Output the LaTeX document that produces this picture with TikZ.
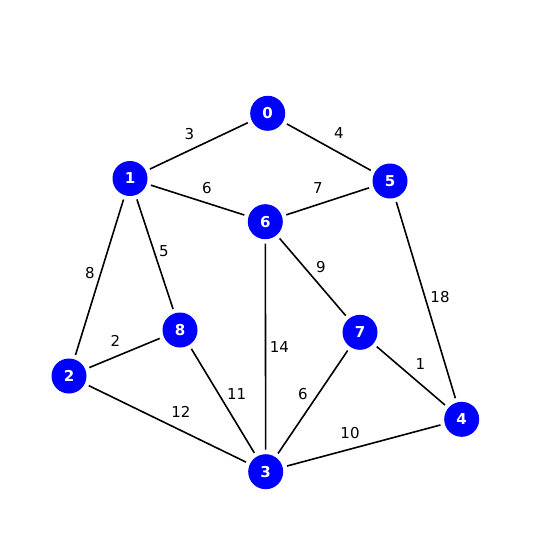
\documentclass[tikz,border=0pt]{standalone}
\usepackage{fontspec}
\setmainfont{DejaVu Sans}
\usepackage{tikz}
\usetikzlibrary{positioning}

\begin{document}
\begin{tikzpicture}[x=1pt, y=-1pt,
    vertex/.style={circle, fill=blue, draw=none, minimum size=35pt, inner sep=0pt, outer sep=4.5pt, text=white, font=\fontsize{15}{15}\selectfont\bfseries},
    weight/.style={inner sep=0pt, font=\fontsize{15}{15}\selectfont},
    edge/.style={draw=black, line width=1.6pt}]
    \useasboundingbox (0,0) rectangle (533,533);

    % vertices
    \node[vertex] (n0) at (267.7,113.3) {0};
    \node[vertex] (n1) at (130,178.5) {1};
    \node[vertex] (n5) at (390,181) {5};
    \node[vertex] (n6) at (265.3,221.7) {6};
    \node[vertex] (n8) at (180,330) {8};
    \node[vertex] (n7) at (360,332.3) {7};
    \node[vertex] (n2) at (69,376) {2};
    \node[vertex] (n4) at (461.7,419.3) {4};
    \node[vertex] (n3) at (265.7,471.7) {3};

    % edges
    \draw[edge] (n0) -- (n1);
    \draw[edge] (n0) -- (n5);
    \draw[edge] (n1) -- (n6);
    \draw[edge] (n6) -- (n5);
    \draw[edge] (n1) -- (n2);
    \draw[edge] (n1) -- (n8);
    \draw[edge] (n6) -- (n7);
    \draw[edge] (n5) -- (n4);
    \draw[edge] (n6) -- (n3);
    \draw[edge] (n2) -- (n8);
    \draw[edge] (n7) -- (n4);
    \draw[edge] (n8) -- (n3);
    \draw[edge] (n7) -- (n3);
    \draw[edge] (n2) -- (n3);
    \draw[edge] (n3) -- (n4);

    % weights
    \node[weight] (w01) at (189.3,133.7) {3};
    \node[weight] (w05) at (339,133) {4};
    \node[weight] (w16) at (207,187.7) {6};
    \node[weight] (w65) at (318,188) {7};
    \node[weight] (w12) at (90,273) {8};
    \node[weight] (w18) at (164,251) {5};
    \node[weight] (w67) at (321,267) {9};
    \node[weight] (w54) at (440,296.7) {18};
    \node[weight] (w63) at (279.3,346.7) {14};
    \node[weight] (w28) at (115.3,341) {2};
    \node[weight] (w74) at (420.3,364) {1};
    \node[weight] (w83) at (236.7,394) {11};
    \node[weight] (w73) at (303,394) {6};
    \node[weight] (w23) at (181,412) {12};
    \node[weight] (w34) at (350,432.7) {10};
\end{tikzpicture}
\end{document}
